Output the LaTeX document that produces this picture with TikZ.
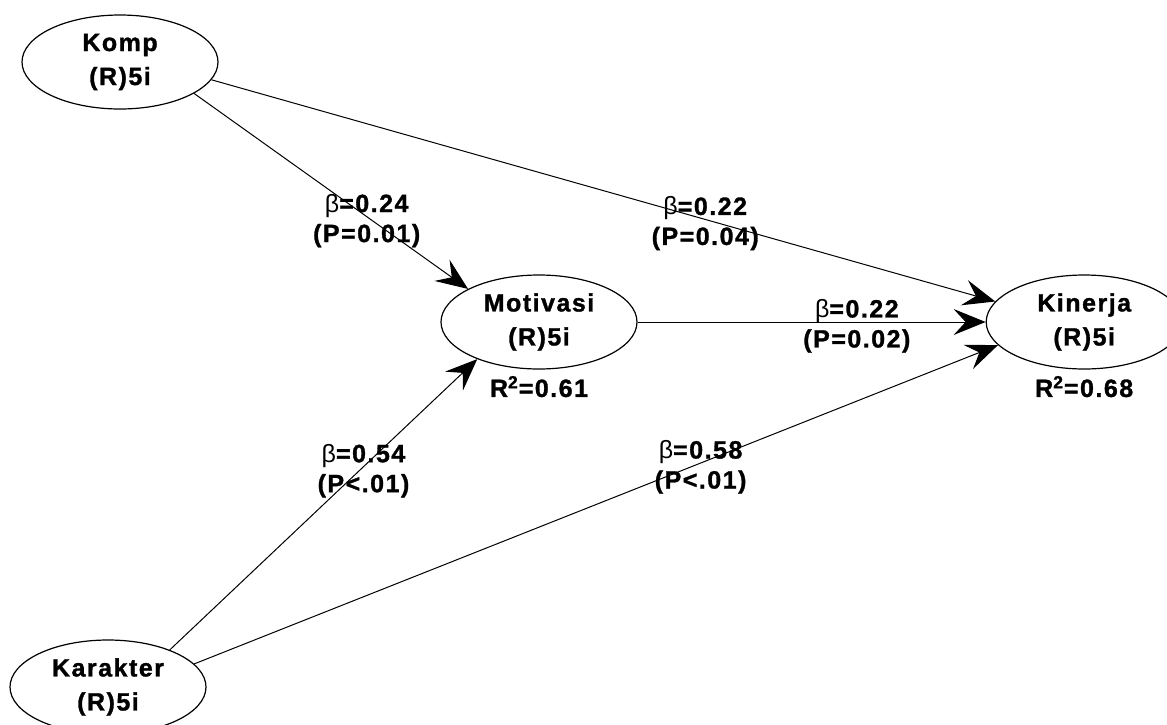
\documentclass[tikz,border=0pt]{standalone}
\usepackage{fontspec}
\setmainfont{Liberation Sans}[LetterSpace=6,BoldFeatures={FakeBold=1.2}]
\usetikzlibrary{arrows.meta,positioning,shapes.geometric}

\begin{document}
\begin{tikzpicture}[x=0.5pt,y=-0.5pt,
  latent/.style={ellipse,draw,line width=0.6pt,minimum width=98pt,minimum height=47pt,
    inner sep=0pt,align=center,font=\bfseries\fontsize{12.5}{17}\selectfont},
  link/.style={draw,line width=0.5pt,-{Stealth[length=16pt,width=13pt,inset=6pt]}},
  coef/.style={pos=0.63,align=center,yshift=-2pt,font=\bfseries\fontsize{12.5}{15}\selectfont},
  rsq/.style={inner sep=1pt,font=\bfseries\fontsize{12.5}{15}\selectfont}]

  \clip (0,0) rectangle (1167,724);

  % constructs
  \node[latent] (Komp)     at (120,62)  {Komp\\(R)5i};
  \node[latent] (Motivasi) at (539,322) {Motivasi\\(R)5i};
  \node[latent] (Kinerja)  [right=174pt of Motivasi] {Kinerja\\(R)5i};
  \node[latent] (Karakter) at (108,687) {Karakter\\(R)5i};

  \node[rsq] (r2 Motivasi) [below=2pt of Motivasi] {R\textsuperscript{2}=0.61};
  \node[rsq] (r2 Kinerja)  [below=2pt of Kinerja]  {R\textsuperscript{2}=0.68};

  % paths
  \draw[link] (Komp.-23) -- node[coef] {{\mdseries β}=0.24\\(P=0.01)} (Motivasi.155);
  \draw[link] (Komp.-11) -- node[coef] {{\mdseries β}=0.22\\(P=0.04)} (Kinerja.167);
  \draw[link] (Motivasi.east) -- node[coef] {{\mdseries β}=0.22\\(P=0.02)} (Kinerja.west);
  \draw[link] (Karakter.31) -- node[coef] {{\mdseries β}=0.54\\(P<.01)} (Motivasi.211);
  \draw[link] (Karakter.15) -- node[coef] {{\mdseries β}=0.58\\(P<.01)} (Kinerja.195);
\end{tikzpicture}
\end{document}
